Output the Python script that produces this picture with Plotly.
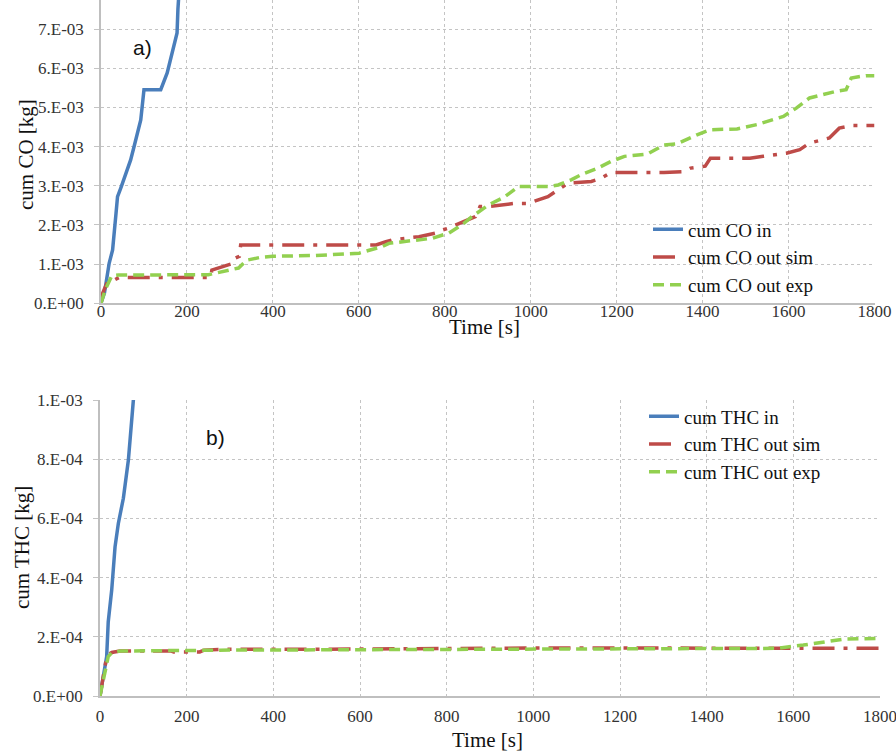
import plotly.graph_objects as go

# ---------------- data ----------------
x_ticks = [0, 200, 400, 600, 800, 1000, 1200, 1400, 1600, 1800]
x_tick_labels = [str(v) for v in x_ticks]

co_ticks = [0, 1e-3, 2e-3, 3e-3, 4e-3, 5e-3, 6e-3, 7e-3]
co_tick_labels = ["0.E+00", "1.E-03", "2.E-03", "3.E-03", "4.E-03", "5.E-03", "6.E-03", "7.E-03"]
thc_ticks = [0, 2e-4, 4e-4, 6e-4, 8e-4, 1e-3]
thc_tick_labels = ["0.E+00", "2.E-04", "4.E-04", "6.E-04", "8.E-04", "1.E-03"]

# a) cumulative CO
co_in_t = [0, 8, 19, 27, 35, 38.5, 46, 69, 77, 92.5, 100, 139, 154, 170, 177, 179, 183]
co_in_v = [0, 0.26e-3, 1.02e-3, 1.36e-3, 2.3e-3, 2.72e-3, 2.94e-3, 3.66e-3, 4.0e-3, 4.68e-3,
           5.45e-3, 5.45e-3, 5.88e-3, 6.64e-3, 6.9e-3, 7.5e-3, 8.2e-3]

co_sim_t = [0, 4, 15, 23, 42, 255, 258, 285, 308, 312, 322, 325, 640, 663, 678, 740, 778, 794,
            809, 871, 882, 902, 963, 994, 1017, 1040, 1087, 1141, 1164, 1187, 1310, 1356, 1372,
            1406, 1418, 1510, 1541, 1595, 1626, 1649, 1695, 1718, 1749, 1800]
co_sim_v = [0, 0.26e-3, 0.55e-3, 0.55e-3, 0.66e-3, 0.66e-3, 0.85e-3, 0.95e-3, 1.02e-3, 1.15e-3,
            1.2e-3, 1.49e-3, 1.49e-3, 1.57e-3, 1.62e-3, 1.70e-3, 1.79e-3, 1.87e-3, 1.92e-3,
            2.21e-3, 2.47e-3, 2.47e-3, 2.55e-3, 2.55e-3, 2.64e-3, 2.72e-3, 3.07e-3, 3.11e-3,
            3.19e-3, 3.34e-3, 3.34e-3, 3.36e-3, 3.45e-3, 3.5e-3, 3.70e-3, 3.70e-3, 3.75e-3,
            3.83e-3, 3.92e-3, 4.09e-3, 4.22e-3, 4.47e-3, 4.54e-3, 4.54e-3]

co_exp_t = [0, 10, 25, 40, 250, 270, 300, 320, 339, 370, 400, 500, 601, 655, 670, 771, 809, 840,
            863, 902, 940, 971, 1040, 1064, 1094, 1117, 1156, 1187, 1218, 1272, 1310, 1341, 1387,
            1418, 1480, 1526, 1588, 1618, 1649, 1711, 1734, 1746, 1780, 1800]
co_exp_v = [0, 0.35e-3, 0.7e-3, 0.72e-3, 0.73e-3, 0.78e-3, 0.85e-3, 0.9e-3, 1.1e-3, 1.17e-3,
            1.2e-3, 1.22e-3, 1.28e-3, 1.45e-3, 1.53e-3, 1.66e-3, 1.79e-3, 2.0e-3, 2.21e-3,
            2.51e-3, 2.72e-3, 2.98e-3, 2.98e-3, 3.02e-3, 3.15e-3, 3.28e-3, 3.45e-3, 3.62e-3,
            3.75e-3, 3.81e-3, 4.04e-3, 4.07e-3, 4.30e-3, 4.43e-3, 4.45e-3, 4.56e-3, 4.77e-3,
            4.98e-3, 5.24e-3, 5.41e-3, 5.45e-3, 5.75e-3, 5.81e-3, 5.81e-3]

# b) cumulative THC
thc_in_t = [0, 8, 15.4, 19, 27, 34.7, 42.3, 53.9, 65.5, 77, 85]
thc_in_v = [0, 0.65e-4, 1.33e-4, 2.5e-4, 3.58e-4, 5.04e-4, 5.83e-4, 6.68e-4, 7.97e-4, 10.0e-4, 11.0e-4]

thc_sim_t = [0, 7.7, 15, 19, 27, 46, 165, 170, 230, 240, 300, 500, 650, 800, 1000, 1200, 1400,
             1600, 1800]
thc_sim_v = [0, 0.73e-4, 1.3e-4, 1.4e-4, 1.47e-4, 1.52e-4, 1.52e-4, 1.49e-4, 1.49e-4, 1.55e-4,
             1.58e-4, 1.58e-4, 1.6e-4, 1.6e-4, 1.62e-4, 1.62e-4, 1.62e-4, 1.61e-4, 1.61e-4]

thc_exp_t = [0, 11.5, 19, 27, 46, 300, 600, 900, 1200, 1400, 1561, 1623, 1654, 1677, 1715, 1800]
thc_exp_v = [0, 0.82e-4, 1.33e-4, 1.46e-4, 1.52e-4, 1.55e-4, 1.56e-4, 1.57e-4, 1.57e-4, 1.58e-4,
             1.61e-4, 1.72e-4, 1.78e-4, 1.83e-4, 1.92e-4, 1.95e-4]

# ---------------- style ----------------
BLUE = "#4A7EBB"
RED = "#BE4B48"
GREEN = "#92D050"
SERIF = "Liberation Serif"
W = 3.5

fig = go.Figure()

def add(t, v, name, color, dash, xa, ya, legend):
    fig.add_trace(go.Scatter(x=t, y=v, mode="lines", name=name,
                             line=dict(color=color, width=W, dash=dash),
                             xaxis=xa, yaxis=ya, legend=legend))

add(co_in_t, co_in_v, "cum CO in", BLUE, "solid", "x", "y", "legend")
add(co_sim_t, co_sim_v, "cum CO out sim", RED, "22px,9px,4px,9px", "x", "y", "legend")
add(co_exp_t, co_exp_v, "cum CO out exp", GREEN, "11px,6px", "x", "y", "legend")
add(thc_in_t, thc_in_v, "cum THC in", BLUE, "solid", "x2", "y2", "legend2")
add(thc_sim_t, thc_sim_v, "cum THC out sim", RED, "22px,9px,4px,9px", "x2", "y2", "legend2")
add(thc_exp_t, thc_exp_v, "cum THC out exp", GREEN, "11px,6px", "x2", "y2", "legend2")

tick_font = dict(family=SERIF, size=17, color="#333")
common = dict(showgrid=True, gridcolor="#c4c4c4", griddash="dot", gridwidth=1,
              zeroline=False, showline=True, linecolor="#bfbfbf", linewidth=1.5,
              automargin=False, tickfont=tick_font)
xcommon = dict(ticks="", ticklabeloverflow="allow", **common)
ycommon = dict(ticks="outside", ticklen=5, tickcolor="#c4c4c4", ticklabelstandoff=7, **common)

fig.update_layout(
    width=896, height=751, autosize=False,
    font=dict(family=SERIF, size=17, color="#222"),
    margin=dict(l=0, r=0, t=0, b=0, pad=0, autoexpand=False),
    paper_bgcolor="white", plot_bgcolor="white",
    xaxis=dict(domain=[101/896, 874.5/896], range=[0, 1800], anchor="y",
               tickvals=x_ticks, ticktext=x_tick_labels, ticklabelstandoff=-8, **xcommon),
    yaxis=dict(domain=[(751-303.3)/751, 1.0], range=[0, 7.74e-3], anchor="x",
               tickvals=co_ticks, ticktext=co_tick_labels, **ycommon),
    xaxis2=dict(domain=[100/896, 880/896], range=[0, 1800], anchor="y2",
                tickvals=x_ticks, ticktext=x_tick_labels, ticklabelstandoff=4, **xcommon),
    yaxis2=dict(domain=[55/751, 351/751], range=[0, 1e-3], anchor="x2",
                tickvals=thc_ticks, ticktext=thc_tick_labels, **ycommon),
    legend=dict(x=648/896, y=1-210.5/751, xanchor="left", yanchor="top",
                bgcolor="rgba(0,0,0,0)", font=dict(family=SERIF, size=19, color="#111"),
                tracegroupgap=0),
    legend2=dict(x=644/896, y=1-397.5/751, xanchor="left", yanchor="top",
                 bgcolor="rgba(0,0,0,0)", font=dict(family=SERIF, size=19, color="#111"),
                 tracegroupgap=0),
    showlegend=True,
)

ann_font = dict(family=SERIF, size=21, color="#111")

def ann(text, px, py, font, angle=0):
    fig.add_annotation(text=text, x=px/896, y=1-py/751, xref="paper", yref="paper",
                       xanchor="center", yanchor="middle", showarrow=False,
                       textangle=angle, font=font)

ann("Time [s]", 484, 327, ann_font)
ann("Time [s]", 487, 740, ann_font)
ann("cum CO [kg]", 26, 155, ann_font, -90)
ann("cum THC [kg]", 22, 548, ann_font, -90)
sans = dict(family="Liberation Sans", size=21, color="#111")
ann("a)", 142, 48, sans)
ann("b)", 215, 437, sans)

fig.write_html("out.html", config={"responsive": False})
